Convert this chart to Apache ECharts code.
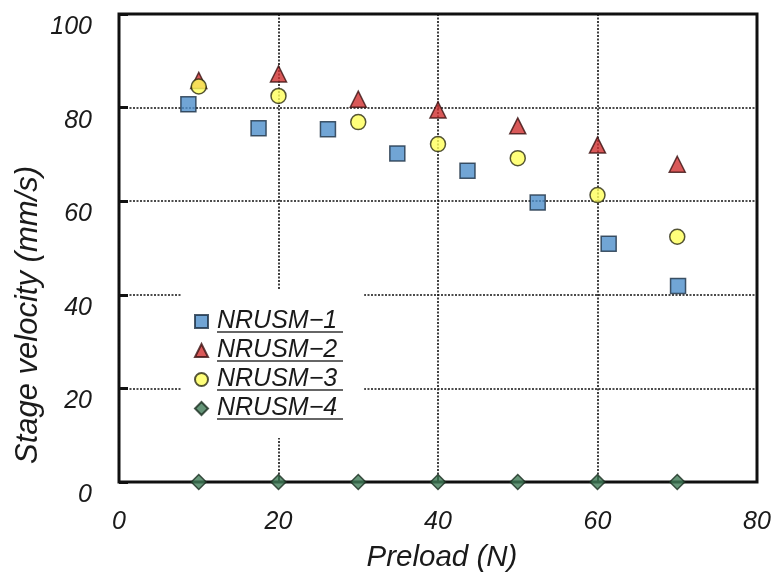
<!DOCTYPE html>
<html>
<head>
<meta charset="utf-8">
<script src="https://cdn.jsdelivr.net/npm/echarts@6/dist/echarts.min.js"></script>
<style>
    html, body { margin: 0; padding: 0; background: #fff; }
    #chart { width: 777px; height: 578px; }
</style>
</head>
<body>
<div id="chart"></div>
<script>
    // values
    var seriesNames = ['NRUSM−1', 'NRUSM−2', 'NRUSM−3', 'NRUSM−4'];
    var xNrusm1 = [8.7, 17.5, 26.2, 34.9, 43.7, 52.5, 61.4, 70.1];
    var yNrusm1 = [80.7, 75.6, 75.4, 70.2, 66.5, 59.7, 50.9, 41.9];
    var xPreload = [10, 20, 30, 40, 50, 60, 70];
    var yNrusm2 = [85.8, 87.2, 81.8, 79.5, 76.1, 72.0, 67.9];
    var yNrusm3 = [84.5, 82.5, 76.9, 72.2, 69.2, 61.3, 52.4];
    var yNrusm4 = [0, 0, 0, 0, 0, 0, 0];

    var font = "'Liberation Sans', Arial, sans-serif";
    var ink = '#1a1a1a';

    function pairs(xs, ys) {
        var out = [];
        for (var i = 0; i < xs.length; i++) {
            out.push([xs[i], ys[i]]);
        }
        return out;
    }

    // underline under each legend entry
    var underlines = [];
    for (var k = 0; k < seriesNames.length; k++) {
        underlines.push({
            type: 'line',
            z: 100,
            shape: { x1: 217, y1: 332 + k * 29, x2: 343, y2: 332 + k * 29 },
            style: { stroke: '#333', lineWidth: 1.6 }
        });
    }

    var chart = echarts.init(document.getElementById('chart'), null, { renderer: 'canvas' });

    var option = {
        backgroundColor: '#fff',
        animation: false,
        grid: {
            left: 119, right: 20, top: 14, bottom: 96,
            show: true,
            borderColor: '#111',
            borderWidth: 3
        },
        legend: {
            orient: 'vertical',
            left: 182,
            top: 290,
            padding: [19, 27, 17, 12],
            backgroundColor: '#fff',
            itemWidth: 13,
            itemHeight: 13,
            itemGap: 4,
            data: seriesNames,
            textStyle: {
                fontFamily: font,
                fontStyle: 'italic',
                fontSize: 25,
                lineHeight: 22,
                color: ink,
                padding: [0, 0, 0, 4]
            }
        },
        xAxis: {
            type: 'value',
            min: 0, max: 80, interval: 20,
            name: 'Preload (N)',
            nameLocation: 'middle',
            nameGap: 61,
            nameTextStyle: { fontFamily: font, fontStyle: 'italic', fontSize: 29.5, color: ink, padding: [0, 0, 0, 8] },
            axisLine: { show: false },
            axisTick: { show: true, inside: true, length: 6, lineStyle: { color: '#111', width: 2 } },
            axisLabel: { margin: 28, fontFamily: font, fontStyle: 'italic', fontSize: 25, color: ink },
            splitLine: { show: true, lineStyle: { color: '#111', width: 1.6, type: [2, 1.5] } }
        },
        yAxis: {
            type: 'value',
            min: 0, max: 100, interval: 20,
            axisLine: { show: false },
            axisTick: { show: true, inside: true, length: 9, lineStyle: { color: '#111', width: 3 } },
            axisLabel: {
                margin: 27,
                fontFamily: font, fontStyle: 'italic', fontSize: 25, color: ink,
                verticalAlign: 'top',
                lineHeight: 26
            },
            splitLine: { show: true, lineStyle: { color: '#111', width: 1.6, type: [2, 1.5] } }
        },
        graphic: [
            {
                type: 'text',
                x: 28, y: 315,
                rotation: Math.PI / 2,
                style: {
                    text: 'Stage velocity (mm/s)',
                    fontFamily: font, fontStyle: 'italic', fontSize: 31,
                    fill: ink,
                    align: 'center', verticalAlign: 'middle'
                }
            }
        ].concat(underlines),
        series: [
            {
                name: seriesNames[0], type: 'scatter',
                symbol: 'rect', symbolSize: 15,
                itemStyle: { color: '#4d8fcb', borderColor: '#1c2f44', borderWidth: 1.5 },
                data: pairs(xNrusm1, yNrusm1)
            },
            {
                name: seriesNames[1], type: 'scatter',
                symbol: 'triangle', symbolSize: 16,
                itemStyle: { color: '#cf2f2f', borderColor: '#3a1010', borderWidth: 1.5 },
                data: pairs(xPreload, yNrusm2)
            },
            {
                name: seriesNames[2], type: 'scatter',
                symbol: 'circle', symbolSize: 15,
                itemStyle: { color: '#ffff5a', borderColor: '#2a2a10', borderWidth: 1.5 },
                data: pairs(xPreload, yNrusm3)
            },
            {
                name: seriesNames[3], type: 'scatter',
                symbol: 'diamond', symbolSize: 15,
                itemStyle: { color: '#3f7a56', borderColor: '#1a2e20', borderWidth: 1.5 },
                data: pairs(xPreload, yNrusm4)
            }
        ]
    };

    chart.setOption(option);
    window.addEventListener('resize', chart.resize);
</script>
</body>
</html>
